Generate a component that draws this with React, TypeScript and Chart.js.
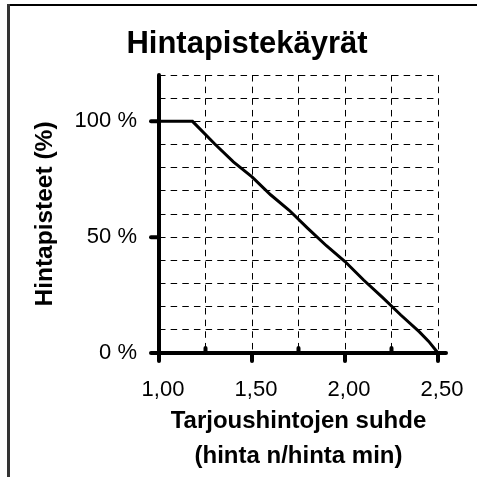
import React, { useEffect, useRef } from 'react';
import { Chart, registerables } from 'chart.js';

Chart.register(...registerables);

const FONT = '"Liberation Sans", Arial, Helvetica, sans-serif';

const chartTitle = 'Hintapistekäyrät';
const xTitle = ['Tarjoushintojen suhde', '(hinta n/hinta min)'];
const yTitle = 'Hintapisteet (%)';

const ratios = [1.0, 1.18, 1.3, 1.4, 1.5, 1.6, 1.7, 1.8, 1.9, 2.0, 2.1, 2.2, 2.3, 2.4, 2.45, 2.5];
const pricePoints = [100, 100, 90.2, 82.5, 76, 68.3, 61.6, 53.8, 46.3, 39.5, 31.5, 24.1, 16.4, 9.1, 5, 0];

const xMin = 1.0;
const xMax = 2.5;
const xStep = 0.25;
const xLabelValues = [1.0, 1.5, 2.0, 2.5];
const xMinorTickValues = [1.25, 1.75, 2.25];

const yMin = 0;
const yMax = 120;
const yStep = 10;
const yLabelValues = [0, 50, 100];

const near = (a: number, list: number[]) => list.some((v) => Math.abs(v - a) < 1e-6);

const decorPlugin = {
  id: 'decor',
  afterDatasetsDraw(chart: any) {
    const { ctx } = chart;
    const x = chart.scales.x;
    const y = chart.scales.y;
    const x0 = x.getPixelForValue(xMin);
    const x1 = x.getPixelForValue(xMax);
    const y0 = y.getPixelForValue(yMin);
    const yTop = y.getPixelForValue(yMax);
    const line = (ax: number, ay: number, bx: number, by: number) => {
      ctx.beginPath();
      ctx.moveTo(ax, ay);
      ctx.lineTo(bx, by);
      ctx.stroke();
    };
    ctx.save();
    ctx.strokeStyle = '#000';
    ctx.lineWidth = 4;
    ctx.lineCap = 'round';
    line(x0, yTop, x0, y0);
    line(x0, y0, x1 + 8, y0);
    yLabelValues.forEach((v) => {
      const py = y.getPixelForValue(v);
      line(x0 - 8, py, x0, py);
    });
    xLabelValues.forEach((v) => {
      const px = x.getPixelForValue(v);
      line(px, y0, px, y0 + 8);
    });
    xMinorTickValues.forEach((v) => {
      const px = x.getPixelForValue(v);
      line(px, y0, px, y0 - 5);
    });
    ctx.restore();
  },
  afterDraw(chart: any) {
    const { ctx } = chart;
    ctx.save();
    // frame
    ctx.fillStyle = '#000';
    ctx.fillRect(7, 4, 470, 2);
    ctx.fillStyle = '#333';
    ctx.fillRect(7, 4, 3, 473);
    // title
    ctx.fillStyle = '#000';
    ctx.font = `bold 31px ${FONT}`;
    ctx.textAlign = 'center';
    ctx.textBaseline = 'alphabetic';
    ctx.fillText(chartTitle, 247, 53);
    ctx.restore();
  },
};

export default function App() {
  const ref = useRef<HTMLCanvasElement | null>(null);

  useEffect(() => {
    if (!ref.current) return;
    const chart = new Chart(ref.current, {
      type: 'line',
      data: {
        datasets: [
          {
            data: ratios.map((r, i) => ({ x: r, y: pricePoints[i] })),
            borderColor: '#000',
            borderWidth: 3,
            pointRadius: 0,
            tension: 0,
            fill: false,
            clip: false as any,
          },
        ],
      },
      options: {
        responsive: false,
        animation: false,
        layout: { padding: { top: 75, right: 39, left: 0, bottom: 0 } },
        plugins: {
          legend: { display: false },
          tooltip: { enabled: false },
          title: { display: false },
        },
        scales: {
          x: {
            type: 'linear',
            min: xMin,
            max: xMax,
            afterFit: (s: any) => {
              s.height = 124;
              s.paddingLeft = 0;
              s.paddingRight = 0;
            },
            ticks: {
              stepSize: xStep,
              autoSkip: false,
              maxRotation: 0,
              padding: 24,
              labelOffset: 4,
              color: '#000',
              font: { family: FONT, size: 22 },
              callback: (v: any) => (near(Number(v), xLabelValues) ? Number(v).toFixed(2).replace('.', ',') : ''),
            },
            grid: { color: '#000', lineWidth: 1, drawTicks: false },
            border: { display: false, dash: [6.5, 5.15] },
            title: {
              display: true,
              text: xTitle,
              color: '#000',
              font: { family: FONT, size: 24, weight: 'bold', lineHeight: 1.45 },
              padding: { top: 0, bottom: 3 },
            },
          },
          y: {
            type: 'linear',
            min: yMin,
            max: yMax,
            afterFit: (s: any) => {
              s.width = 159;
            },
            ticks: {
              stepSize: yStep,
              autoSkip: false,
              padding: 22,
              color: '#000',
              font: { family: FONT, size: 22 },
              callback: (v: any) => (near(Number(v), yLabelValues) ? `${v} %` : ''),
            },
            grid: { color: '#000', lineWidth: 1, drawTicks: false },
            border: { display: false, dash: [6.5, 5.15] },
            title: {
              display: true,
              text: yTitle,
              color: '#000',
              font: { family: FONT, size: 24.5, weight: 'bold', lineHeight: 1.2 },
              padding: { top: 31, bottom: 0 },
            },
          },
        },
      } as any,
      plugins: [decorPlugin],
    });
    return () => chart.destroy();
  }, []);

  return (
    <div style={{ position: 'absolute', left: 0, top: 0, width: 477, height: 477, background: '#fff' }}>
      <canvas ref={ref} width={477} height={477} style={{ display: 'block', width: 477, height: 477 }} />
    </div>
  );
}
